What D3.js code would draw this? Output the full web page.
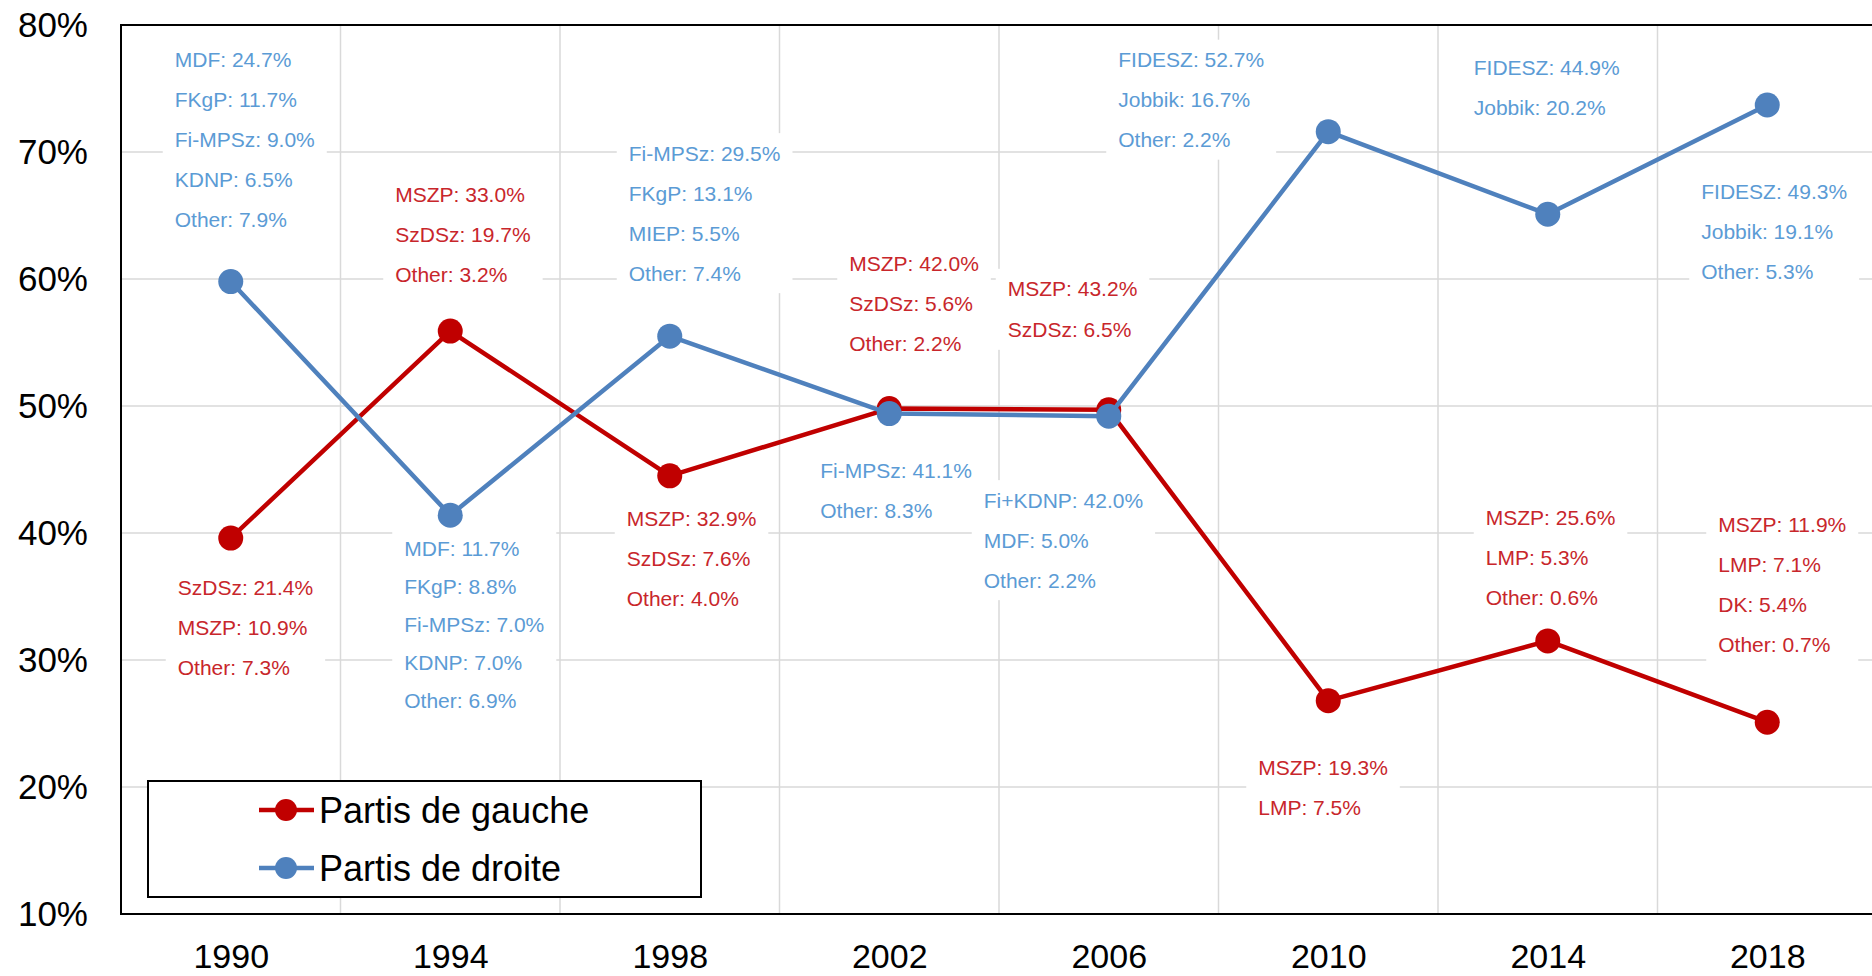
<!DOCTYPE html>
<html>
<head>
<meta charset="utf-8">
<script src="https://cdn.jsdelivr.net/npm/d3@7"></script>
<style>
  html, body { margin: 0; padding: 0; background: #fff; }
  svg { display: block; font-family: "Liberation Sans", Arial, sans-serif; }
</style>
</head>
<body>
<svg id="chart" width="1872" height="976"></svg>
<script>
// ---------- DATA ----------
const years = ["1990", "1994", "1998", "2002", "2006", "2010", "2014", "2018"];
const gauche = [39.6, 55.9, 44.5, 49.8, 49.7, 26.8, 31.5, 25.1];
const droite = [59.8, 41.4, 55.5, 49.4, 49.2, 71.6, 65.1, 73.7];
const yTicks = [10, 20, 30, 40, 50, 60, 70, 80];
const seriesNames = ["Partis de gauche", "Partis de droite"];

const gaucheLabels = [
  ["SzDSz: 21.4%", "MSZP: 10.9%", "Other: 7.3%"],
  ["MSZP: 33.0%", "SzDSz: 19.7%", "Other: 3.2%"],
  ["MSZP: 32.9%", "SzDSz: 7.6%", "Other: 4.0%"],
  ["MSZP: 42.0%", "SzDSz: 5.6%", "Other: 2.2%"],
  ["MSZP: 43.2%", "SzDSz: 6.5%"],
  ["MSZP: 19.3%", "LMP: 7.5%"],
  ["MSZP: 25.6%", "LMP: 5.3%", "Other: 0.6%"],
  ["MSZP: 11.9%", "LMP: 7.1%", "DK: 5.4%", "Other: 0.7%"]
];
const droiteLabels = [
  ["MDF: 24.7%", "FKgP: 11.7%", "Fi-MPSz: 9.0%", "KDNP: 6.5%", "Other: 7.9%"],
  ["MDF: 11.7%", "FKgP: 8.8%", "Fi-MPSz: 7.0%", "KDNP: 7.0%", "Other: 6.9%"],
  ["Fi-MPSz: 29.5%", "FKgP: 13.1%", "MIEP: 5.5%", "Other: 7.4%"],
  ["Fi-MPSz: 41.1%", "Other: 8.3%"],
  ["Fi+KDNP: 42.0%", "MDF: 5.0%", "Other: 2.2%"],
  ["FIDESZ: 52.7%", "Jobbik: 16.7%", "Other: 2.2%"],
  ["FIDESZ: 44.9%", "Jobbik: 20.2%"],
  ["FIDESZ: 49.3%", "Jobbik: 19.1%", "Other: 5.3%"]
];

// ---------- LAYOUT (label offsets relative to each point, px) ----------
const gaucheLabelPos = [[-53, 50], [-55, -136], [-43, 43], [-40, -145], [-101, -121], [-70, 67], [-62, -123], [-49, -198]];
const droiteLabelPos = [[-56, -222], [-46, 33], [-41, -183], [-69, 57], [-125, 84], [-210, -72], [-74, -147], [-66, 87]];
const droiteLineGap = [40, 38, 40, 40, 40, 40, 40, 40];
const gaucheLineGap = [40, 40, 40, 40, 41, 40, 40, 40];

const colors = { gaucheLine: "#c00000", droiteLine: "#4f81bd", gaucheText: "#c8262b", droiteText: "#5b9bd5" };

// ---------- SCALES ----------
const svg = d3.select("#chart");
const plotL = 121, plotR = 1877, plotT = 25, plotB = 914;
const x = d3.scalePoint().domain(years).range([plotL, plotR]).padding(0.5);
const y = d3.scaleLinear().domain([10, 80]).range([plotB, plotT]);
const step = x.step();

// ---------- GRID ----------
const grid = svg.append("g");
grid.selectAll(".hg").data(yTicks.filter(t => t > 10 && t < 80)).enter().append("line")
  .attr("x1", plotL).attr("x2", plotR).attr("y1", d => y(d)).attr("y2", d => y(d))
  .attr("stroke", "#d9d9d9").attr("stroke-width", 1.5);
grid.selectAll(".vg").data(years.slice(0, -1)).enter().append("line")
  .attr("x1", d => x(d) + step / 2).attr("x2", d => x(d) + step / 2)
  .attr("y1", plotT).attr("y2", plotB)
  .attr("stroke", "#d9d9d9").attr("stroke-width", 1.5);

// ---------- AXES ----------
const yAxis = d3.axisLeft(y).tickValues(yTicks).tickFormat(d => d + "%").tickSize(0).tickPadding(33);
const gy = svg.append("g").attr("transform", `translate(${plotL},0)`).call(yAxis);
gy.select(".domain").remove();
gy.selectAll("text").attr("font-size", 35).attr("fill", "#000")
  .attr("font-family", "'Liberation Sans', Arial, sans-serif");

const xAxis = d3.axisBottom(x).tickSize(0).tickPadding(30);
const gx = svg.append("g").attr("transform", `translate(0,${plotB})`).call(xAxis);
gx.select(".domain").remove();
gx.selectAll("text").attr("font-size", 34).attr("fill", "#000")
  .attr("font-family", "'Liberation Sans', Arial, sans-serif");

// frame
svg.append("rect").attr("x", plotL).attr("y", plotT).attr("width", plotR - plotL).attr("height", plotB - plotT)
  .attr("fill", "none").attr("stroke", "#000").attr("stroke-width", 2);

// ---------- LABEL BOXES + TEXT ----------
const labelLayer = svg.append("g");
function addLabels(values, labels, pos, gaps, color) {
  values.forEach((v, i) => {
    const px = x(years[i]) + pos[i][0];
    const py = y(v) + pos[i][1];
    const g = labelLayer.append("g");
    const rect = g.append("rect").attr("fill", "#fff");
    const texts = g.selectAll("text").data(labels[i]).enter().append("text")
      .attr("x", px).attr("y", (d, j) => py + j * gaps[i])
      .attr("dy", "0.35em")
      .attr("font-size", 21)
      .attr("fill", color)
      .text(d => d);
    let maxW = 0;
    texts.each(function () { maxW = Math.max(maxW, this.getComputedTextLength()); });
    const n = labels[i].length;
    rect.attr("x", px - 12).attr("width", maxW + 24)
      .attr("y", py - 20).attr("height", (n - 1) * gaps[i] + 40);
  });
}
addLabels(gauche, gaucheLabels, gaucheLabelPos, gaucheLineGap, colors.gaucheText);
addLabels(droite, droiteLabels, droiteLabelPos, droiteLineGap, colors.droiteText);

// ---------- LINES ----------
const line = d3.line().x((d, i) => x(years[i])).y(d => y(d));
const dataSets = [
  { vals: gauche, color: colors.gaucheLine },
  { vals: droite, color: colors.droiteLine }
];
const lineLayer = svg.append("g");
dataSets.forEach(s => {
  lineLayer.append("path").datum(s.vals).attr("d", line)
    .attr("fill", "none").attr("stroke", s.color).attr("stroke-width", 4.5)
    .attr("stroke-linejoin", "round");
  lineLayer.selectAll(null).data(s.vals).enter().append("circle")
    .attr("cx", (d, i) => x(years[i])).attr("cy", d => y(d)).attr("r", 12.5)
    .attr("fill", s.color);
});

// ---------- LEGEND ----------
const lg = svg.append("g");
lg.append("rect").attr("x", 148).attr("y", 781).attr("width", 553).attr("height", 116)
  .attr("fill", "#fff").attr("stroke", "#000").attr("stroke-width", 2);
const legendItems = [
  { name: seriesNames[0], color: colors.gaucheLine },
  { name: seriesNames[1], color: colors.droiteLine }
];
legendItems.forEach((it, i) => {
  const cy = 810 + i * 58;
  lg.append("line").attr("x1", 259).attr("x2", 314).attr("y1", cy).attr("y2", cy)
    .attr("stroke", it.color).attr("stroke-width", 4.5);
  lg.append("circle").attr("cx", 286).attr("cy", cy).attr("r", 11).attr("fill", it.color);
  lg.append("text").attr("x", 319).attr("y", cy).attr("dy", "0.35em")
    .attr("font-size", 36).attr("fill", "#000").text(it.name);
});
</script>
</body>
</html>
